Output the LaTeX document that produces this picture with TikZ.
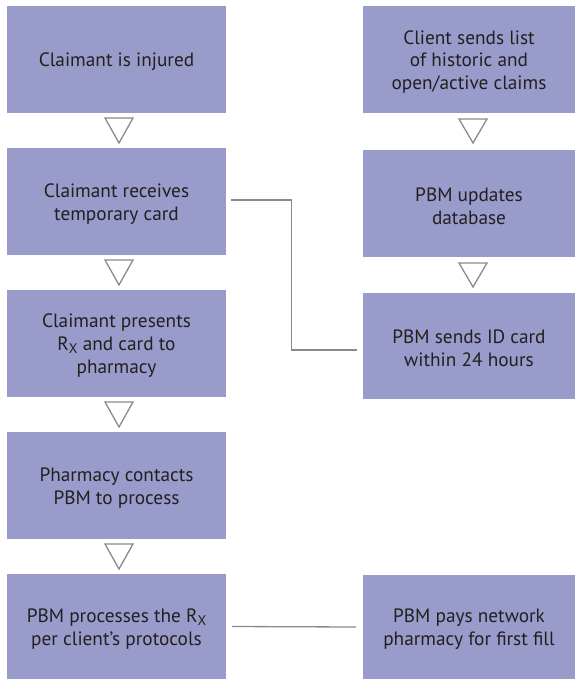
\documentclass[tikz,border=0pt]{standalone}
\usepackage{fontspec}
\setmainfont{PT Sans}
\definecolor{boxfill}{HTML}{999CCB}
\definecolor{boxtext}{HTML}{231F20}
\definecolor{linegrey}{HTML}{8A8A8A}
\newcommand{\RxSym}{R\raisebox{-0.28ex}{\fontsize{14}{14}\selectfont X}}
\newcommand{\topgap}{\rule{0pt}{18.5pt}}
\begin{document}
\begin{tikzpicture}[x=1pt,y=-1pt,
  flowbox/.style={fill=boxfill, draw=none, text=boxtext, align=center,
    inner sep=0pt, font=\fontsize{19.3}{22.8}\selectfont},
  leftbox/.style={flowbox, minimum width=219pt, minimum height=107pt},
  rightbox/.style={flowbox, minimum width=212pt, minimum height=107pt},
  conn/.style={draw=linegrey, line width=1.3pt},
  downtri/.style={draw=linegrey, line width=1.3pt, line join=miter, fill=white}]
\useasboundingbox (0,0) rectangle (575,679);
% left column
\node[leftbox] (b1) at (116.5,59.5) {\topgap Claimant is injured};
\node[leftbox] (b2) at (116.5,201.5) {\topgap Claimant receives\\temporary card};
\node[leftbox] (b3) at (116.5,343.5) {\topgap Claimant presents\\\RxSym{} and card to\\pharmacy};
\node[leftbox] (b4) at (116.5,485.5) {\topgap Pharmacy contacts\\PBM to process};
\node[leftbox, minimum height=105pt] (b5) at (116.5,626.5) {\topgap PBM processes the \RxSym\\per client’s protocols};
% right column
\node[rightbox] (r1) at (469,59.5) {\topgap Client sends list\\of historic and\\open/active claims};
\node[rightbox] (r2) at (469,203.5) {\topgap PBM updates\\database};
\node[rightbox, minimum height=106pt] (r3) at (469,346) {\topgap PBM sends ID card\\within 24 hours};
\node[rightbox, minimum height=104pt] (r4) at (469,627) {\topgap PBM pays network\\pharmacy for first fill};
% triangles left
\foreach \t in {118,260,402,544}{
  \draw[downtri] (105,\t) -- (133,\t) -- (119,\t+25) -- cycle;
}
% triangles right
\foreach \t in {119,263}{
  \draw[downtri] (459,\t) -- (487,\t) -- (473,\t+24) -- cycle;
}
% connectors
\draw[conn] ([shift={(5,-1.5)}]b2.east) -- ++(60,0) |- ([shift={(-6,4)}]r3.west);
\draw[conn] ([xshift=6pt]b5.east) -- ([xshift=-7pt]r4.west);
\end{tikzpicture}
\end{document}
